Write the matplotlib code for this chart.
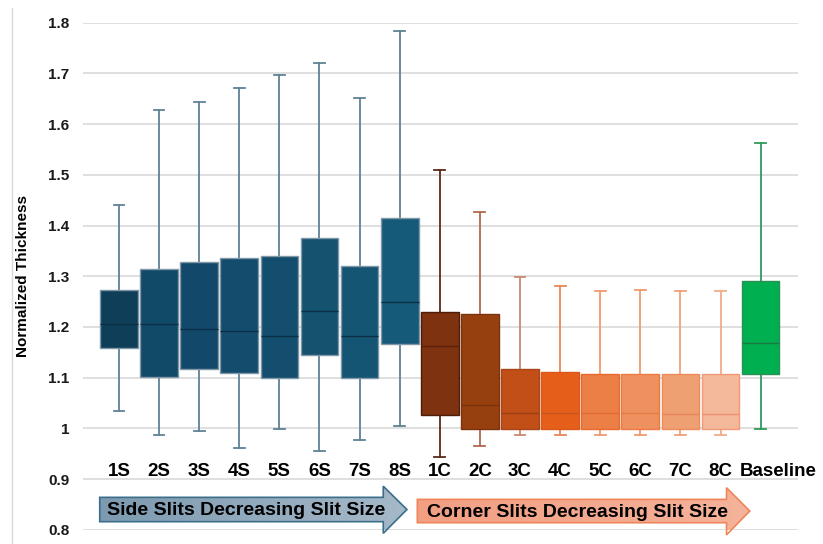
import numpy as np
import matplotlib
matplotlib.use("Agg")
import matplotlib.pyplot as plt
from matplotlib.patches import Polygon
from matplotlib.lines import Line2D
from matplotlib.colors import LinearSegmentedColormap

plt.rcParams['font.family'] = ['Liberation Sans', 'DejaVu Sans']
plt.rcParams['font.weight'] = 'bold'

# box plot statistics
labels = ['1S', '2S', '3S', '4S', '5S', '6S', '7S', '8S',
          '1C', '2C', '3C', '4C', '5C', '6C', '7C', '8C', 'Baseline']
whis_lo = [1.034, 0.986, 0.994, 0.961, 0.999, 0.955, 0.977, 1.005,
           0.943, 0.966, 0.986, 0.986, 0.987, 0.986, 0.987, 0.987, 0.999]
q1 = [1.158, 1.101, 1.118, 1.109, 1.100, 1.145, 1.099, 1.167,
      1.027, 0.999, 0.999, 0.999, 0.998, 0.998, 0.998, 0.998, 1.107]
med = [1.205, 1.205, 1.195, 1.192, 1.183, 1.231, 1.183, 1.249,
       1.162, 1.046, 1.031, 1.031, 1.031, 1.030, 1.029, 1.029, 1.168]
q3 = [1.273, 1.315, 1.329, 1.335, 1.340, 1.375, 1.320, 1.414,
      1.229, 1.226, 1.118, 1.111, 1.108, 1.108, 1.108, 1.108, 1.290]
whis_hi = [1.441, 1.628, 1.644, 1.672, 1.697, 1.721, 1.651, 1.783,
           1.509, 1.427, 1.299, 1.281, 1.271, 1.273, 1.271, 1.271, 1.563]

box_colors = ['#0f3e59', '#114969', '#12496b', '#134c6c', '#134e6e', '#145270', '#155574', '#165a7a',
              '#7f3210', '#97400f', '#c24f17', '#e55e1a', '#ec7f45', '#ee915e', '#efa073', '#f3b99a',
              '#00b050']
edge_colors = ['#7f97a6'] * 8 + ['#4e1c08', '#7a3210', '#a8461a', '#d9581c', '#e86a2e',
                                   '#ec7a45', '#ee8a5c', '#f09a76', '#2b8f55']
median_colors = ['#0b2f44'] * 8 + ['#5a220b', '#7a320c', '#9a3f12', '#c8541b', '#e06a30',
                                     '#e67a45', '#e9845a', '#ec9070', '#1a7a40']
whisker_colors = ['#5f8296'] * 8 + ['#5a2a1a', '#b06a50', '#c88a70', '#e8865a', '#ef9a70',
                                     '#ef9a70', '#f0a07a', '#f2aa88', '#2e9b5a']

fig = plt.figure(figsize=(8.23, 5.44), dpi=100)
ax = fig.add_axes([0.1012, 0.0261, 0.8688, 0.9322])

stats = [dict(whislo=a, q1=b, med=c, q3=d, whishi=e, fliers=[])
         for a, b, c, d, e in zip(whis_lo, q1, med, q3, whis_hi)]
pos = np.arange(len(labels))
bp = ax.bxp(stats, positions=pos, widths=0.94, capwidths=0.27,
            patch_artist=True, showfliers=False)

for i, box in enumerate(bp['boxes']):
    box.set_facecolor(box_colors[i])
    box.set_edgecolor(edge_colors[i])
    box.set_linewidth(1.0)
    box.set_zorder(3)
    bp['medians'][i].set_color(median_colors[i])
    bp['medians'][i].set_linewidth(1.0)
    bp['medians'][i].set_zorder(4)
    for ln in bp['whiskers'][2 * i:2 * i + 2] + bp['caps'][2 * i:2 * i + 2]:
        ln.set_color(whisker_colors[i])
        ln.set_linewidth(1.3)
        ln.set_zorder(2)

ax.set_xlim(-0.89, 16.94)
ax.set_ylim(0.8, 1.8)
ax.set_yticks(np.arange(0.8, 1.81, 0.1))
ax.set_yticklabels(['0.8', '0.9', '1', '1.1', '1.2', '1.3', '1.4', '1.5', '1.6', '1.7', '1.8'])
ax.set_xticks([])
ax.tick_params(axis='y', length=0, pad=10, labelsize=11, colors='#1a1a1a')
ax.yaxis.grid(True, color='#d9d9d9', lw=1.2)
ax.set_axisbelow(True)
for s in ax.spines.values():
    s.set_visible(False)

ax.set_ylabel('Normalized Thickness', fontsize=11, fontweight='bold')
ax.yaxis.set_label_coords(-0.0745, 0.5)

# category labels sit inside the plot, just above the 0.9 line;
# the last one is nudged right like in the original
for i, lab in enumerate(labels):
    xi = i + 0.45 if lab == 'Baseline' else i
    ax.text(xi, 0.915, lab, ha='center', va='center', fontsize=13.5, color='black')


def gradient_arrow(x0, xh, xt, yb0, yb1, yh0, yh1, c1, c2, edge, text, tx):
    ym = (yb0 + yb1) / 2
    pts = [(x0, yb0), (xh, yb0), (xh, yh0), (xt, ym), (xh, yh1), (xh, yb1), (x0, yb1)]
    poly = Polygon(pts, closed=True, facecolor='none', edgecolor=edge, lw=1.2,
                   clip_on=False, zorder=6)
    ax.add_patch(poly)
    cmap = LinearSegmentedColormap.from_list('g', [c1, c2])
    grad = np.linspace(0, 1, 256).reshape(1, -1)
    im = ax.imshow(grad, cmap=cmap, extent=(x0, xt, yh0, yh1), aspect='auto',
                   origin='lower', zorder=5)
    im.set_clip_path(poly)
    ax.text(tx, ym - 0.002, text, ha='center', va='center', fontsize=14,
            color='black', zorder=7)


gradient_arrow(-0.48, 6.59, 7.18, 0.816, 0.864, 0.793, 0.886,
               '#7d9ab0', '#a6b9c9', '#3a6e8a', 'Side Slits Decreasing Slit Size', 3.18)
gradient_arrow(7.44, 15.15, 15.73, 0.814, 0.860, 0.790, 0.883,
               '#f29f82', '#f5b39b', '#ef8558', 'Corner Slits Decreasing Slit Size', 11.43)

ax.set_xlim(-0.89, 16.94)
ax.set_ylim(0.8, 1.8)

fig.add_artist(Line2D([12 / 823, 12 / 823], [0, 0.985], transform=fig.transFigure,
                      color='#d9d9d9', lw=1))

fig.savefig('out.png', dpi=100, facecolor='white')
